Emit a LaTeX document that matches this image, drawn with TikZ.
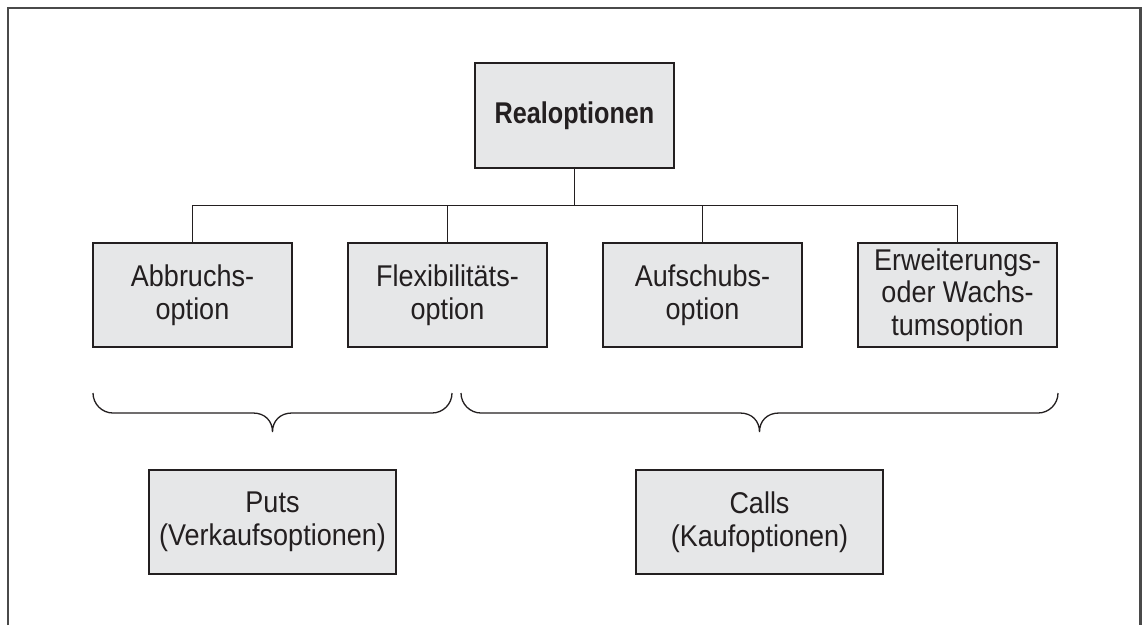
\documentclass[tikz,border=0pt]{standalone}
\usepackage{fontspec}
\setmainfont{Liberation Sans}[FakeStretch=0.9]
\newfontfamily\condbold{Liberation Sans}[FakeStretch=0.84]
\definecolor{ink}{HTML}{231F20}
\definecolor{boxfill}{HTML}{E6E7E8}
\definecolor{framecol}{HTML}{4A4A4A}
\begin{document}
\begin{tikzpicture}[x=1pt,y=-1pt,
  optbox/.style={draw=ink,fill=boxfill,line width=1.5pt,inner sep=0pt,align=center,
    text=ink,font=\fontsize{30}{32.5}\selectfont},
  smallbox/.style={optbox,minimum width=199pt,minimum height=104pt},
  widebox/.style={optbox,minimum width=247pt,minimum height=104pt},
  conn/.style={draw=ink,line width=1.3pt},
  bracepath/.style={draw=ink,line width=1.3pt},
  framepath/.style={draw=framecol,line width=2.4pt}]
\useasboundingbox (0,0) rectangle (1142,625);
% outer frame (open at the bottom)
\draw[framepath] (8,625) -- (8,8) -- (1140.5,8) -- (1140.5,625);
% nodes
\node[optbox,minimum width=199pt,minimum height=105pt,font=\fontsize{30}{32.5}\condbold\bfseries] (top) at (574.5,115.5) {Realoptionen};
\node[smallbox] (abb) at (192.5,295) {Abbruchs-\\option};
\node[smallbox] (flex) at (447.5,295) {Flexibilitäts-\\option};
\node[smallbox] (auf) at (702.5,295) {Aufschubs-\\option};
\node[smallbox] (erw) at (957.5,295) {Erweiterungs-\\oder Wachs-\\tumsoption};
\node[widebox] (puts) at (272.5,522) {Puts\\(Verkaufsoptionen)};
\node[widebox] (calls) at (759.5,522) {Calls\\(Kaufoptionen)};
% connectors
\coordinate (bar) at (574.5,205.5);
\draw[conn] (top.south) -- (bar);
\draw[conn] (abb.north) |- (bar);
\draw[conn] (flex.north) |- (bar);
\draw[conn] (auf.north) |- (bar);
\draw[conn] (erw.north) |- (bar);
% braces
\draw[bracepath] (93,393) .. controls (93,404) and (102,413) .. (113,413)
  -- (253,413) .. controls (265,413) and (272.5,421) .. (272.5,432)
  .. controls (272.5,421) and (280,413) .. (292,413)
  -- (432,413) .. controls (443,413) and (452,404) .. (452,393);
\draw[bracepath] (461,393) .. controls (461,404) and (470,413) .. (481,413)
  -- (740,413) .. controls (752,413) and (759.5,421) .. (759.5,432)
  .. controls (759.5,421) and (767,413) .. (779,413)
  -- (1038,413) .. controls (1049,413) and (1058,404) .. (1058,393);
\end{tikzpicture}
\end{document}
